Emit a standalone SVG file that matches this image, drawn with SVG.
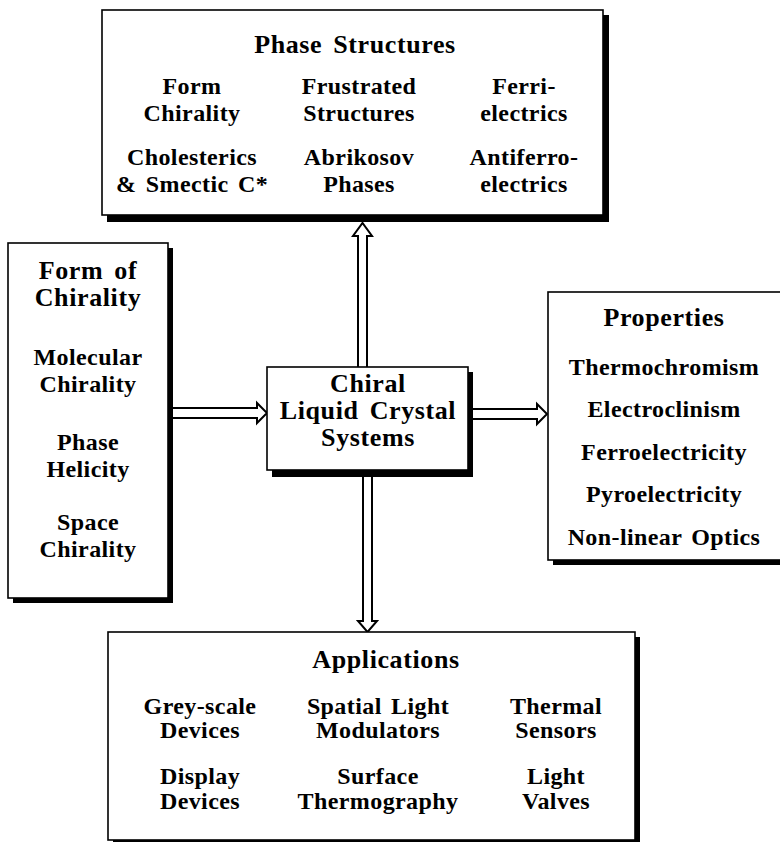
<svg xmlns="http://www.w3.org/2000/svg" width="780" height="842" viewBox="0 0 780 842">
<style>
  text { font-family: "Liberation Serif", "Times New Roman", serif; font-weight: bold; fill: #000; text-anchor: middle; }
  .t { font-size: 26px; letter-spacing: 0.6px; word-spacing: 4px; }
  .i { font-size: 24px; letter-spacing: 0.4px; word-spacing: 3px; }
  .shadow { fill: #000; }
  .box { fill: #fff; stroke: #000; stroke-width: 1.6; }
  .arrow { fill: #fff; stroke: #000; stroke-width: 2; stroke-linejoin: miter; }
</style>
<rect width="780" height="842" fill="#fff"/>

<g id="connectors">
  <path class="arrow" d="M358,367 L358,236 L353,236 L362.5,223 L372,236 L367,236 L367,367"/>
  <path class="arrow" d="M173,408 L257,408 L257,403 L267,413 L257,423 L257,418 L173,418"/>
  <path class="arrow" d="M473,409 L537,409 L537,404 L547,414 L537,424 L537,419 L473,419"/>
  <path class="arrow" d="M363,477 L363,621 L358,621 L367.5,632 L377,621 L372,621 L372,477"/>
</g>

<g id="phase-structures">
  <rect class="shadow" x="107" y="15" width="502" height="207"/>
  <rect class="box" x="102" y="10" width="501" height="205"/>
  <text class="t" x="355" y="53">Phase Structures</text>
  <text class="i" x="192" y="94">Form</text>
  <text class="i" x="192" y="121">Chirality</text>
  <text class="i" x="192" y="165">Cholesterics</text>
  <text class="i" x="192" y="192">&amp; Smectic C*</text>
  <text class="i" x="359" y="94">Frustrated</text>
  <text class="i" x="359" y="121">Structures</text>
  <text class="i" x="359" y="165">Abrikosov</text>
  <text class="i" x="359" y="192">Phases</text>
  <text class="i" x="524" y="94">Ferri-</text>
  <text class="i" x="524" y="121">electrics</text>
  <text class="i" x="524" y="165">Antiferro-</text>
  <text class="i" x="524" y="192">electrics</text>
</g>

<g id="form-of-chirality">
  <rect class="shadow" x="13" y="248" width="160" height="355"/>
  <rect class="box" x="8" y="243" width="160" height="355"/>
  <text class="t" x="88" y="279">Form of</text>
  <text class="t" x="88" y="306">Chirality</text>
  <text class="i" x="88" y="365">Molecular</text>
  <text class="i" x="88" y="392">Chirality</text>
  <text class="i" x="88" y="450">Phase</text>
  <text class="i" x="88" y="477">Helicity</text>
  <text class="i" x="88" y="530">Space</text>
  <text class="i" x="88" y="557">Chirality</text>
</g>

<g id="chiral-lc-systems">
  <rect class="shadow" x="272" y="372" width="201" height="105"/>
  <rect class="box" x="267" y="367" width="201" height="103"/>
  <text class="t" x="368" y="392">Chiral</text>
  <text class="t" x="368" y="419">Liquid Crystal</text>
  <text class="t" x="368" y="446">Systems</text>
</g>

<g id="properties">
  <rect class="shadow" x="553" y="297" width="240" height="268"/>
  <rect class="box" x="548" y="292" width="236" height="268"/>
  <text class="t" x="664" y="326">Properties</text>
  <text class="i" x="664" y="375">Thermochromism</text>
  <text class="i" x="664" y="417">Electroclinism</text>
  <text class="i" x="664" y="460">Ferroelectricity</text>
  <text class="i" x="664" y="502">Pyroelectricity</text>
  <text class="i" x="664" y="545">Non-linear Optics</text>
</g>

<g id="applications">
  <rect class="shadow" x="113" y="637" width="527" height="210"/>
  <rect class="box" x="108" y="632" width="527" height="208"/>
  <text class="t" x="386" y="668">Applications</text>
  <text class="i" x="200" y="714">Grey-scale</text>
  <text class="i" x="200" y="738">Devices</text>
  <text class="i" x="200" y="784">Display</text>
  <text class="i" x="200" y="809">Devices</text>
  <text class="i" x="378" y="714">Spatial Light</text>
  <text class="i" x="378" y="738">Modulators</text>
  <text class="i" x="378" y="784">Surface</text>
  <text class="i" x="378" y="809">Thermography</text>
  <text class="i" x="556" y="714">Thermal</text>
  <text class="i" x="556" y="738">Sensors</text>
  <text class="i" x="556" y="784">Light</text>
  <text class="i" x="556" y="809">Valves</text>
</g>
</svg>
